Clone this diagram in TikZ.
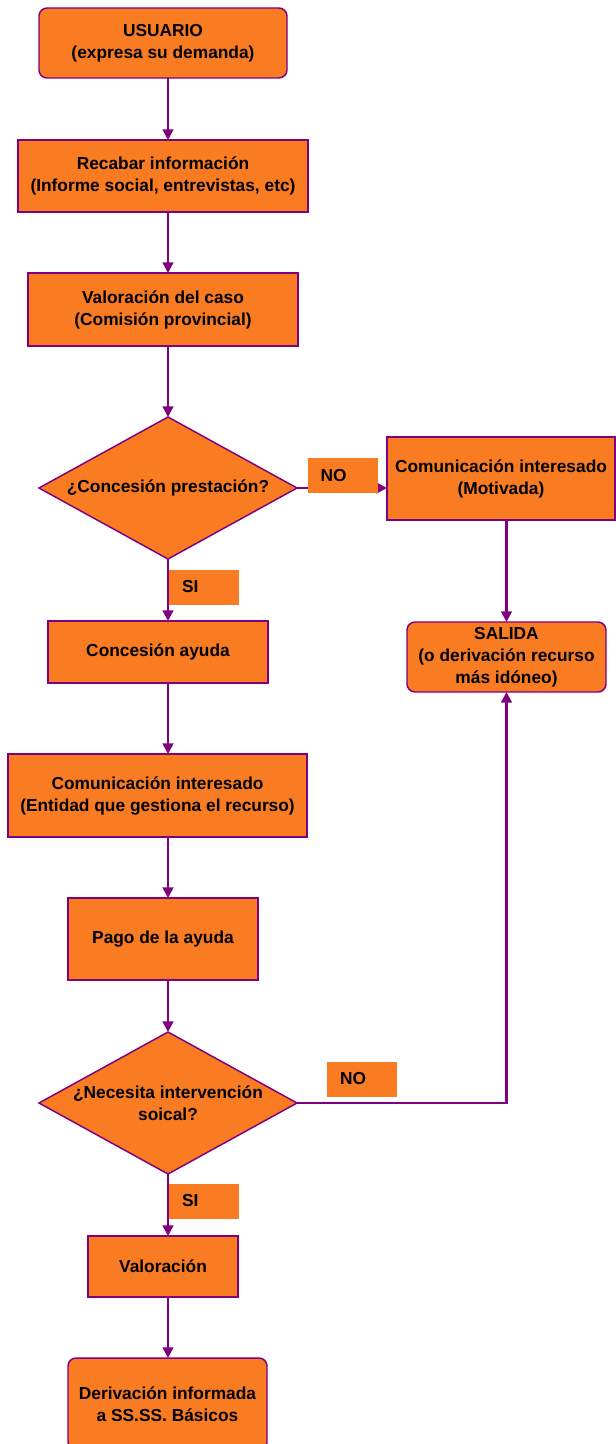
\documentclass[tikz,border=0pt]{standalone}
\usepackage{fontspec}
\setmainfont{Liberation Sans}
\usetikzlibrary{shapes.geometric,arrows.meta}
\definecolor{orng}{HTML}{F97B22}
\definecolor{purp}{HTML}{800080}
\tikzset{
  txtfont/.style={font=\bfseries\fontsize{13}{16.5}\selectfont},
  base/.style={draw=purp, line width=1.1pt, fill=orng, align=center, txtfont, inner sep=0pt, outer sep=0pt},
  box/.style={base, rectangle},
  rbox/.style={base, rectangle, rounded corners=6pt},
  decision/.style={base, diamond, aspect=1.817, minimum width=193.5pt, minimum height=106.5pt},
  lbl/.style={rectangle, fill=orng, minimum width=52.5pt, minimum height=26.25pt, text width=33pt, inner xsep=9.75pt, inner ysep=0pt, align=left, txtfont},
  conn/.style={draw=purp, line width=1.9pt},
  arr/.style={conn, -{Triangle[width=8pt,length=8pt]}}
}
\begin{document}
\begin{tikzpicture}[x=0.75pt, y=-0.75pt]
\useasboundingbox (0,0) rectangle (616,1444);
% main nodes
\node[rbox, minimum width=186pt, minimum height=52.5pt] (usr) at (163,43) {USUARIO\\(expresa su demanda)};
\node[box, minimum width=217.5pt, minimum height=54pt] (rec) at (163,176) {Recabar información\\(Informe social, entrevistas, etc)};
\node[box, minimum width=202.5pt, minimum height=54.75pt] (val) at (163,309.5) {Valoración del caso\\(Comisión provincial)};
\node[decision] (d1) at (168,488) {¿Concesión prestación?};
\node[box, minimum width=171pt, minimum height=62.25pt] (com1) at (501,478.5) {Comunicación interesado\\(Motivada)};
\node[box, minimum width=165pt, minimum height=46.5pt] (ayu) at (158,652) {Concesión ayuda};
\node[rbox, minimum width=149.25pt, minimum height=52.5pt] (sal) at (506.5,657) {SALIDA\\(o derivación recurso\\más idóneo)};
\node[box, minimum width=224.25pt, minimum height=62.25pt] (com2) at (157.5,795.5) {Comunicación interesado\\(Entidad que gestiona el recurso)};
\node[box, minimum width=142.5pt, minimum height=61.5pt] (pago) at (163,939) {Pago de la ayuda};
\node[decision] (d2) at (168,1103) {¿Necesita intervención\\soical?};
\node[box, minimum width=112.5pt, minimum height=45.75pt] (valo) at (163,1266.5) {Valoración};
\node[rbox, minimum width=149.25pt, minimum height=69pt] (der) at (167.5,1404) {Derivación informada\\a SS.SS. Básicos};
% connectors
\draw[arr] (usr.south -| d1.north) -- (rec.north -| d1.north);
\draw[arr] (rec.south -| d1.north) -- (val.north -| d1.north);
\draw[arr] (val.south -| d1.north) -- (d1.north);
\draw[arr] (d1.east) -- (com1.west |- d1.east);
\draw[arr] (d1.south) -- (ayu.north -| d1.south);
\draw[arr] (com1.south -| sal.north) -- (sal.north);
\draw[arr] (ayu.south -| d1.south) -- (com2.north -| d1.south);
\draw[arr] (com2.south -| d1.south) -- (pago.north -| d1.south);
\draw[arr] (pago.south -| d2.north) -- (d2.north);
\draw[arr] (d2.east) -| (sal.south);
\draw[arr] (d2.south) -- (valo.north -| d2.south);
\draw[arr] (valo.south -| d2.south) -- (der.north -| d2.south);
% labels
\node[lbl] (no1) at (342.5,475.5) {NO};
\node[lbl] (si1) at (204,587) {SI};
\node[lbl] (no2) at (362,1079) {NO};
\node[lbl] (si2) at (204,1201) {SI};
\end{tikzpicture}
\end{document}
